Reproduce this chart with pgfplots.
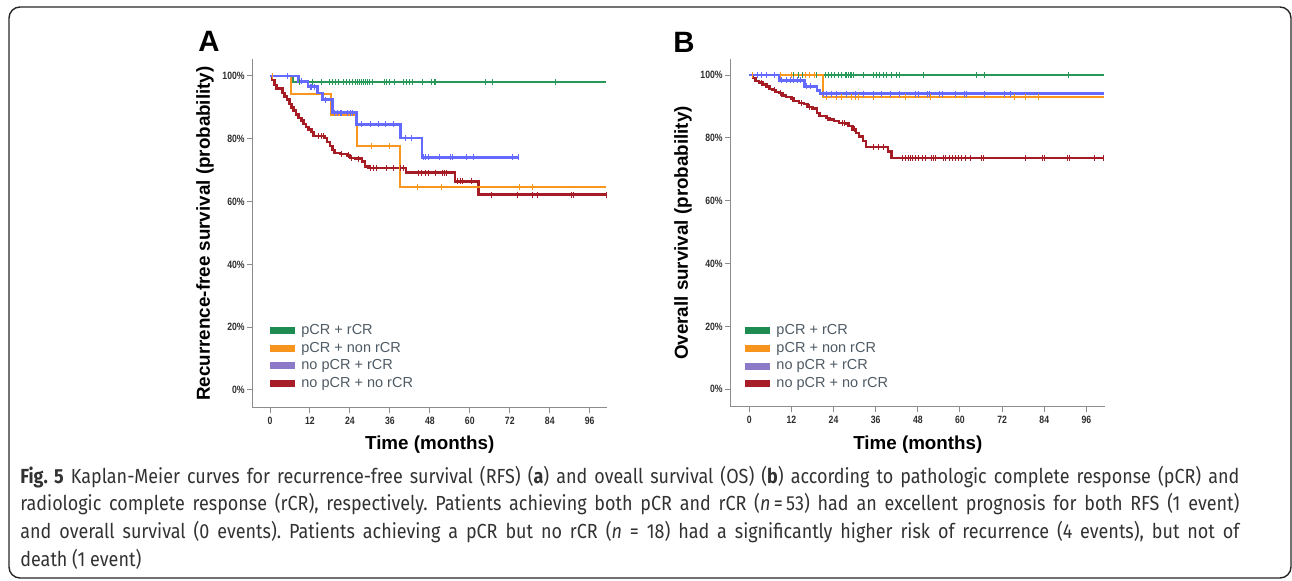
\documentclass[border=0pt]{standalone}
\usepackage{fontspec}
\setmainfont{Liberation Sans}
\newfontfamily\tickfont[FakeStretch=0.82]{Liberation Sans}
\newfontfamily\capfont[FakeStretch=0.88]{Fira Sans}
\usepackage{pgfplots}
\pgfplotsset{compat=1.18}

\definecolor{cG}{RGB}{40,152,88}
\definecolor{cO}{RGB}{248,150,30}
\definecolor{cB}{RGB}{100,105,255}
\definecolor{cR}{RGB}{165,28,36}
\definecolor{lG}{RGB}{30,140,80}
\definecolor{lO}{RGB}{247,148,30}
\definecolor{lP}{RGB}{140,122,200}
\definecolor{lR}{RGB}{168,30,40}
\definecolor{axgray}{RGB}{140,140,140}
\definecolor{tickc}{RGB}{45,45,45}
\definecolor{legtext}{RGB}{78,90,100}
\definecolor{captext}{RGB}{50,50,50}

\pgfplotsset{
  swatch/.style={legend image code/.code={\fill[#1] (0pt,-1.5pt) rectangle (12pt,1.5pt);}},
  cmark/.style={only marks, mark=|, mark size=1.5pt, mark options={line width=0.5pt}},
  km/.style={
    scale only axis,
    axis lines=left,
    axis line style={-, draw=axgray, line width=0.65pt},
    xtick={0,12,...,96}, xticklabels={0,12,24,36,48,60,72,84,96},
    ytick={0,20,...,100}, yticklabels={0\%,20\%,40\%,60\%,80\%,100\%},
    tick align=outside, major tick length=2.8pt,
    tick style={draw=axgray, line width=0.5pt},
    ticklabel style={font=\tickfont\bfseries\fontsize{5.3}{6}\selectfont, text=tickc},
    xticklabel style={inner sep=1.5pt},
    yticklabel style={inner sep=1pt},
    label style={font=\bfseries\fontsize{9.4}{11}\selectfont},
    legend cell align=left,
    legend style={draw=none, fill=none, inner sep=0pt, outer sep=0pt,
      anchor=north west, font=\fontsize{7.25}{8}\selectfont, text=legtext,
      row sep=2pt, column sep=3.3pt,
      nodes={inner sep=0pt, text height=5.3pt, text depth=1.5pt}},
    every axis plot/.append style={const plot},
  }
}

\begin{document}
\begin{tikzpicture}[x=0.5pt,y=0.5pt]
\useasboundingbox (0,0) rectangle (1292,580);
\draw[line width=0.7pt, color=black!85, rounded corners=5.5pt] (9,2) rectangle (1291,573);

\node[font=\bfseries\fontsize{14.7}{16}\selectfont, inner sep=0pt] at (209,539) {A};
\node[font=\bfseries\fontsize{14.7}{16}\selectfont, inner sep=0pt] at (684,538) {B};

% ---------------- A: recurrence-free survival
\begin{axis}[km,
  at={(126.35pt,86.15pt)}, anchor=south west,
  width=177pt, height=174.2pt,
  xmin=-5.2, xmax=101.1, ymin=-5.64, ymax=105.3,
  ylabel={Recurrence-free survival (probability)},
  ylabel style={at={(axis description cs:-0.1347,0.5)}, anchor=center},
  xlabel={Time (months)},
  xlabel style={at={(axis description cs:0.5,-0.107)}, anchor=center},
  legend style={at={(axis cs:0,21.05)}},
]
% pCR + rCR
\addplot[cG, line width=1.15pt, forget plot] coordinates {(0,100) (6.9,98.1) (101,98.1)};
\addplot[cG, cmark, forget plot] coordinates {
 (9.0,98.1) (12.8,98.1) (15.5,98.1) (18.0,98.1) (18.8,98.1) (19.7,98.1) (20.7,98.1)
 (22.0,98.1) (23.0,98.1) (24.0,98.1) (24.8,98.1) (25.6,98.1) (26.3,98.1) (27.0,98.1)
 (27.5,98.1) (28.0,98.1) (28.7,98.1) (29.3,98.1) (30.0,98.1) (30.8,98.1) (34.3,98.1)
 (35.0,98.1) (35.8,98.1) (37.3,98.1) (40.0,98.1) (41.0,98.1) (41.8,98.1) (42.8,98.1)
 (45.7,98.1) (48.6,98.1) (49.3,98.1) (49.8,98.1) (64.6,98.1) (66.9,98.1) (85.8,98.1)};
% no pCR + no rCR
\addplot[cR, line width=1.2pt, forget plot] coordinates {
 (0,100) (0.6,98.8) (1.3,97.2) (1.9,96.0) (3.8,94.6) (4.4,93.5) (5.1,92.5) (5.8,91.1)
 (6.4,90.0) (7.1,89.0) (7.8,87.7) (8.6,86.6) (9.4,85.8) (10.1,84.7) (10.8,83.7)
 (11.6,82.9) (12.4,82.2) (13.1,80.8) (16.4,80.3) (17.1,79.0) (18.1,77.6) (18.8,76.5)
 (19.4,75.5) (21.1,75.2) (23.1,74.7) (24.1,73.9) (25.6,73.7) (27.6,72.8) (28.6,71.2)
 (29.6,70.7) (40.8,69.2) (55.6,66.4) (62.6,62.2) (101,62.2)};
\addplot[cR, cmark, forget plot] coordinates {
 (14.5,80.8) (15.5,80.8) (16.0,80.8) (21.6,75.2) (23.6,74.7) (24.6,73.9) (26.6,73.7)
 (30.1,70.7) (31.1,70.7) (32.1,70.7) (35.1,70.7) (37.1,70.7) (39.1,70.7) (40.1,70.7)
 (44.7,69.2) (45.6,69.2) (46.6,69.2) (47.7,69.2) (49.6,69.2) (51.9,69.2) (52.3,69.2)
 (52.9,69.2) (56.4,66.4) (57.1,66.4) (57.9,66.4) (60.4,66.4) (66.4,62.2) (74.2,62.2)
 (78.7,62.2) (80.4,62.2) (90.4,62.2) (91.1,62.2) (101,62.2)};
% pCR + non rCR
\addplot[cO, line width=1.0pt, forget plot] coordinates {
 (0,100) (6.3,94.2) (18.3,87.5) (26.0,77.7) (39.0,64.7) (101,64.7)};
\addplot[cO, cmark, forget plot] coordinates {
 (0.6,100) (30.5,77.7) (35.8,77.7) (44.2,64.7) (51.6,64.7) (75.0,64.7) (78.7,64.7)};
% no pCR + rCR
\addplot[cB, line width=1.3pt, forget plot] coordinates {
 (0,100) (8.6,98.3) (11.4,96.6) (14.3,94.6) (15.7,92.5) (18.7,88.3) (25.9,84.6)
 (39.1,80.3) (45.6,74.1) (74.5,74.1)};
\addplot[cB, cmark, forget plot] coordinates {
 (5.3,100) (9.6,98.3) (12.1,96.6) (12.6,96.6) (13.4,96.6) (16.6,92.5) (19.4,88.3)
 (20.4,88.3) (21.1,88.3) (21.6,88.3) (23.4,88.3) (24.1,88.3) (24.8,88.3) (27.6,84.6)
 (30.1,84.6) (32.6,84.6) (34.8,84.6) (37.1,84.6) (40.6,80.3) (42.6,80.3) (46.2,74.1)
 (46.8,74.1) (47.7,74.1) (51.0,74.1) (54.3,74.1) (54.9,74.1) (58.9,74.1) (61.2,74.1)
 (72.7,74.1) (74.5,74.1)};
\addlegendimage{swatch=lG}\addlegendentry{pCR + rCR}
\addlegendimage{swatch=lO}\addlegendentry{pCR + non rCR}
\addlegendimage{swatch=lP}\addlegendentry{no pCR + rCR}
\addlegendimage{swatch=lR}\addlegendentry{no pCR + no rCR}
\end{axis}

% ---------------- B: overall survival
\begin{axis}[km,
  at={(365.35pt,86.65pt)}, anchor=south west,
  width=187.15pt, height=173.7pt,
  xmin=-5.3, xmax=101.3, ymin=-5.54, ymax=105.0,
  ylabel={Overall survival (probability)},
  ylabel style={at={(axis description cs:-0.1274,0.5)}, anchor=center},
  xlabel={Time (months)},
  xlabel style={at={(axis description cs:0.5,-0.110)}, anchor=center},
  legend style={at={(axis cs:-1.2,20.8)}},
]
% pCR + rCR
\addplot[cG, line width=1.15pt, forget plot] coordinates {(0,100) (101,100)};
\addplot[cG, cmark, forget plot] coordinates {
 (12.7,100) (14.0,100) (15.2,100) (19.2,100) (21.6,100) (22.5,100) (23.5,100) (24.4,100)
 (25.4,100) (26.3,100) (27.3,100) (27.7,100) (28.2,100) (28.7,100) (29.2,100) (29.6,100)
 (32.5,100) (35.3,100) (36.3,100) (37.2,100) (38.2,100) (39.1,100) (40.6,100) (42.0,100)
 (42.9,100) (49.6,100) (64.8,100) (66.9,100) (90.9,100)};
% no pCR + no rCR
\addplot[cR, line width=1.2pt, forget plot] coordinates {
 (0,100) (1.0,99.1) (1.8,98.1) (2.7,97.6) (3.7,97.0) (4.9,96.3) (5.7,95.6) (6.6,95.2)
 (7.6,94.6) (8.4,94.2) (9.4,93.5) (10.4,93.0) (11.8,92.5) (12.8,91.7) (14.2,91.0)
 (15.6,90.7) (16.6,89.9) (18.0,89.3) (19.3,88.0) (20.0,87.0) (21.8,86.4) (22.8,85.9)
 (24.2,85.4) (25.6,84.8) (27.6,84.6) (28.3,83.8) (29.4,82.7) (30.4,81.6) (31.3,80.4)
 (32.3,79.0) (33.3,77.0) (39.5,75.6) (40.5,73.6) (101,73.6)};
\addplot[cR, cmark, forget plot] coordinates {
 (0.8,100) (3.6,97.6) (7.2,95.2) (9.0,94.2) (12.2,92.5) (14.8,91.0) (17.2,89.9) (22.4,86.4)
 (26.5,84.8) (27.2,84.8) (30.0,82.7) (35.4,77.0) (36.9,77.0) (38.3,77.0)
 (43.5,73.6) (44.4,73.6) (45.2,73.6) (45.9,73.6) (46.6,73.6) (47.3,73.6) (48.3,73.6)
 (49.2,73.6) (50.1,73.6) (51.9,73.6) (52.4,73.6) (52.9,73.6) (55.3,73.6) (55.9,73.6)
 (56.9,73.6) (57.8,73.6) (58.8,73.6) (59.7,73.6) (60.4,73.6) (61.7,73.6) (63.1,73.6)
 (66.1,73.6) (66.7,73.6) (78.7,73.6) (83.5,73.6) (84.2,73.6) (90.6,73.6) (91.1,73.6)
 (98.4,73.6) (101,73.6)};
% pCR + non rCR
\addplot[cO, line width=1.0pt, forget plot] coordinates {(0,100) (20.9,92.9) (101,92.9)};
\addplot[cO, cmark, forget plot] coordinates {
 (0.8,100) (8.9,100) (12.0,100) (15.9,100) (17.2,100) (18.5,100)
 (22.0,92.9) (24.9,92.9) (26.3,92.9) (29.2,92.9) (30.1,92.9) (31.1,92.9) (35.3,92.9)
 (44.4,92.9) (51.7,92.9) (75.4,92.9) (78.7,92.9) (82.5,92.9)};
% no pCR + rCR
\addplot[cB, line width=1.3pt, forget plot] coordinates {
 (0,100) (8.6,98.3) (15.7,96.4) (19.3,95.0) (20.1,94.1) (101,94.1)};
\addplot[cB, cmark, forget plot] coordinates {
 (2.2,100) (3.6,100) (5.0,100) (7.1,100) (9.3,98.3) (10.7,98.3) (11.7,98.3) (12.6,98.3)
 (13.6,98.3) (14.5,98.3) (16.4,96.4) (17.4,96.4) (21.1,94.1) (22.0,94.1) (23.5,94.1)
 (24.9,94.1) (27.7,94.1) (30.1,94.1) (32.5,94.1) (35.3,94.1) (37.7,94.1) (40.1,94.1)
 (42.9,94.1) (47.2,94.1) (48.2,94.1) (50.7,94.1) (51.2,94.1) (54.3,94.1) (55.0,94.1)
 (58.8,94.1) (61.2,94.1) (61.8,94.1) (67.1,94.1) (72.6,94.1) (74.5,94.1)};
\addlegendimage{swatch=lG}\addlegendentry{pCR + rCR}
\addlegendimage{swatch=lO}\addlegendentry{pCR + non rCR}
\addlegendimage{swatch=lP}\addlegendentry{no pCR + rCR}
\addlegendimage{swatch=lR}\addlegendentry{no pCR + no rCR}
\end{axis}

% ---------------- caption
\node[anchor=base west, inner sep=0pt, text=captext,
      font=\capfont\fontsize{10.2}{13.9}\selectfont] at (20,97) {\vtop{\frenchspacing\hsize=609.5pt\baselineskip=13.9pt
\hbox to \hsize{{\bfseries Fig.~5} Kaplan-Meier curves for recurrence-free survival (RFS) ({\bfseries a}) and oveall survival (OS) ({\bfseries b}) according to pathologic complete response (pCR) and}
\hbox to \hsize{radiologic complete response (rCR), respectively. Patients achieving both pCR and rCR ({\itshape n}\,=\,53) had an excellent prognosis for both RFS (1 event)}
\hbox to \hsize{and overall survival (0 events). Patients achieving a pCR but no rCR ({\itshape n} = 18) had a significantly higher risk of recurrence (4 events), but not of}
\hbox{death (1 event)}}};
\end{tikzpicture}
\end{document}
